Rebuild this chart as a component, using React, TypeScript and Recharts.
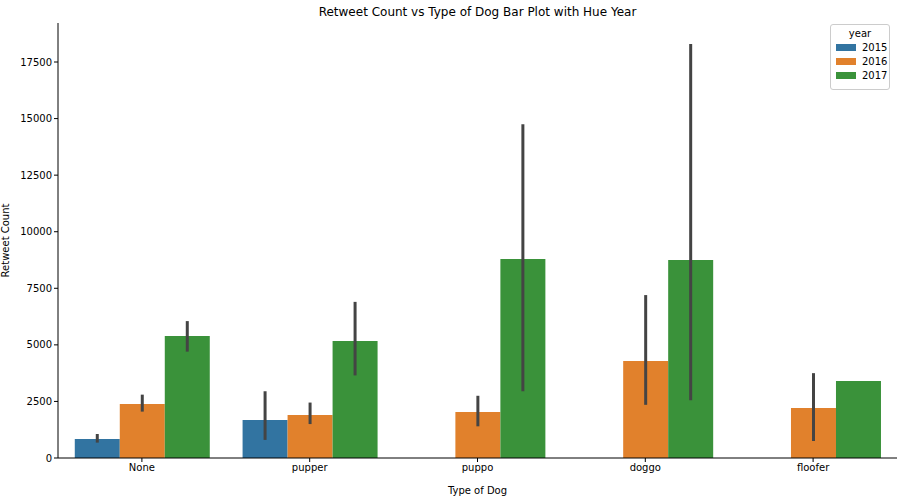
import { BarChart, Bar, XAxis, YAxis, ErrorBar } from 'recharts'

const dogTypes = ['None', 'pupper', 'puppo', 'doggo', 'floofer']
const y2015 = [840, 1680, null, null, null]
const y2016 = [2390, 1900, 2030, 4290, 2210]
const y2017 = [5390, 5170, 8790, 8750, 3400]
const lo2015 = [680, 800, null, null, null]
const hi2015 = [1060, 2950, null, null, null]
const lo2016 = [2050, 1500, 1400, 2350, 750]
const hi2016 = [2800, 2450, 2750, 7200, 3750]
const lo2017 = [4700, 3650, 2950, 2550, 3400]
const hi2017 = [6050, 6900, 14750, 18300, 3400]
const yTicks = [0, 2500, 5000, 7500, 10000, 12500, 15000, 17500]

const err = (v: number | null, lo: number | null, hi: number | null) =>
  v == null || lo == null || hi == null ? [0, 0] : [v - lo, hi - v]

const data = dogTypes.map((t, i) => ({
  type: t,
  y2015: y2015[i],
  y2016: y2016[i],
  y2017: y2017[i],
  e2015: err(y2015[i], lo2015[i], hi2015[i]),
  e2016: err(y2016[i], lo2016[i], hi2016[i]),
  e2017: err(y2017[i], lo2017[i], hi2017[i]),
}))

const colors = ['#3274a1', '#e1812c', '#3a923a']
const font = 'DejaVu Sans, sans-serif'

export default function App() {
  return (
    <div style={{ position: 'relative', width: 907, height: 496, background: '#fff', fontFamily: font }}>
      <style>{'body{margin:0}'}</style>
      <div style={{ position: 'absolute', top: 5, left: 58, width: 839, textAlign: 'center', fontSize: 12 }}>
        Retweet Count vs Type of Dog Bar Plot with Hue Year
      </div>
      <BarChart width={907} height={496} data={data} margin={{ top: 23, right: 10, left: 0, bottom: 0 }}
        barCategoryGap="10%" barGap={0}>
        <XAxis dataKey="type" height={38} tick={{ fontSize: 10, fill: '#000', fontFamily: font }} stroke="#000" tickSize={4}
          label={{ value: 'Type of Dog', position: 'insideBottom', offset: 2, fontSize: 10, fill: '#000', fontFamily: font }} />
        <YAxis width={58} domain={[0, 19224]} ticks={yTicks} tick={{ fontSize: 10, fill: '#000', fontFamily: font }} stroke="#000" tickSize={4}
          label={{ value: 'Retweet Count', angle: -90, position: 'insideLeft', offset: 5, fontSize: 10, fill: '#000', fontFamily: font, style: { textAnchor: 'middle' } }} />
        <Bar dataKey="y2015" fill={colors[0]} isAnimationActive={false}>
          <ErrorBar dataKey="e2015" width={0} stroke="#444" strokeWidth={3} />
        </Bar>
        <Bar dataKey="y2016" fill={colors[1]} isAnimationActive={false}>
          <ErrorBar dataKey="e2016" width={0} stroke="#444" strokeWidth={3} />
        </Bar>
        <Bar dataKey="y2017" fill={colors[2]} isAnimationActive={false}>
          <ErrorBar dataKey="e2017" width={0} stroke="#444" strokeWidth={3} />
        </Bar>
      </BarChart>
      <div style={{ position: 'absolute', left: 830, top: 24, width: 60, height: 66, border: '1px solid #ccc', borderRadius: 3, background: 'rgba(255,255,255,0.8)', fontSize: 10, boxSizing: 'border-box' }}>
        <div style={{ textAlign: 'center', marginTop: 3 }}>year</div>
        {['2015', '2016', '2017'].map((y, i) => (
          <div key={y} style={{ display: 'flex', alignItems: 'center', marginLeft: 5, marginTop: 3 }}>
            <span style={{ width: 20, height: 7, background: colors[i], marginRight: 6 }} />
            {y}
          </div>
        ))}
      </div>
    </div>
  )
}
